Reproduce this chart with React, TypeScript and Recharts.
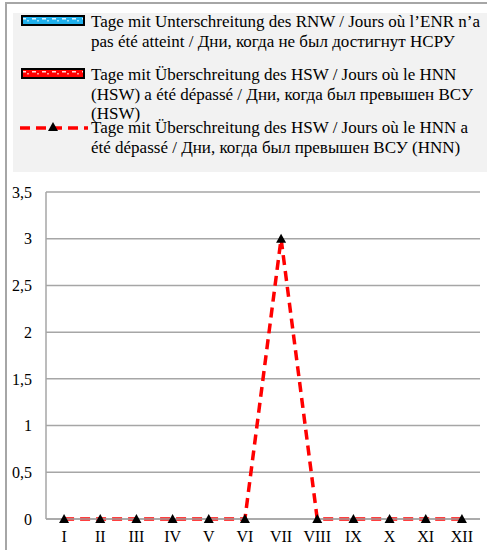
import React from "react";
import { ComposedChart, Bar, Line, XAxis, YAxis, CartesianGrid } from "recharts";

// months (roman numerals)
const months = ["I", "II", "III", "IV", "V", "VI", "VII", "VIII", "IX", "X", "XI", "XII"];
// days below RNW (no bars visible)
const rnwDays = [0, 0, 0, 0, 0, 0, 0, 0, 0, 0, 0, 0];
// days above HSW (no bars visible)
const hswDays = [0, 0, 0, 0, 0, 0, 0, 0, 0, 0, 0, 0];
// days above HSW (HNN) - dashed line
const hnnDays = [0, 0, 0, 0, 0, 0, 3, 0, 0, 0, 0, 0];
const yTicks = [0, 0.5, 1, 1.5, 2, 2.5, 3, 3.5];

const rnwLabel = [
  "Tage mit Unterschreitung des RNW / Jours où l’ENR n’a",
  "pas été atteint / Дни, когда не был достигнут НСРУ",
];
const hswLabel = [
  "Tage mit Überschreitung des HSW / Jours où le HNN",
  "(HSW) a été dépassé / Дни, когда был превышен ВСУ",
  "(HSW)",
];
const hnnLabel = [
  "Tage mit Überschreitung des HSW / Jours où le HNN a",
  "été dépassé / Дни, когда был превышен ВСУ (HNN)",
];

const data = months.map((m, i) => ({
  month: m,
  rnw: rnwDays[i],
  hsw: hswDays[i],
  hnn: hnnDays[i],
}));

const FONT = '"Liberation Serif", "Times New Roman", Times, serif';
const GRID = "#a6a6a6";

const Triangle = (props: any) => {
  const { cx, cy, index } = props;
  if (cx == null || cy == null) return <g key={index} />;
  return (
    <polygon
      key={index}
      points={`${cx},${cy - 5} ${cx - 5},${cy + 4} ${cx + 5},${cy + 4}`}
      fill="#000"
    />
  );
};

function PatternBox({ id, color }: { id: string; color: string }) {
  return (
    <svg width={64} height={11} style={{ display: "block" }}>
      <defs>
        <pattern id={id} width={10} height={8} patternUnits="userSpaceOnUse">
          <rect width={10} height={8} fill={color} />
          <rect x={1} y={3} width={4} height={1.5} fill="#fff" opacity={0.85} />
          <rect x={6} y={5} width={2} height={1.5} fill="#fff" opacity={0.6} />
        </pattern>
      </defs>
      <rect x={1} y={1} width={62} height={9} fill={`url(#${id})`} stroke="#000" strokeWidth={2} />
    </svg>
  );
}

function LegendText({ lines, top }: { lines: string[]; top: number }) {
  return (
    <div
      style={{
        position: "absolute",
        left: 91,
        top,
        fontFamily: FONT,
        fontSize: 17,
        lineHeight: "19.5px",
        color: "#000",
        whiteSpace: "nowrap",
      }}
    >
      {lines.map((l, i) => (
        <div key={i}>{l}</div>
      ))}
    </div>
  );
}

export default function App() {
  return (
    <div style={{ position: "absolute", left: 0, top: 0, width: 487, height: 550, background: "#fff", overflow: "hidden" }}>
      {/* outer frame */}
      <div
        style={{
          position: "absolute",
          left: 5,
          top: 2,
          width: 500,
          height: 600,
          borderLeft: `2px solid ${GRID}`,
          borderTop: `2px solid ${GRID}`,
        }}
      />
      {/* legend box */}
      <div style={{ position: "absolute", left: 13, top: 13, width: 480, height: 159, background: "#f2f2f2" }} />
      <div style={{ position: "absolute", left: 21, top: 15 }}>
        <PatternBox id="rnwPat" color="#1fb0ec" />
      </div>
      <LegendText lines={rnwLabel} top={12} />
      <div style={{ position: "absolute", left: 21, top: 68 }}>
        <PatternBox id="hswPat" color="#ff0000" />
      </div>
      <LegendText lines={hswLabel} top={65} />
      <svg style={{ position: "absolute", left: 20, top: 120 }} width={68} height={14}>
        <line x1={0} y1={8} x2={68} y2={8} stroke="#ff0000" strokeWidth={3.5} strokeDasharray="10 6" />
        <polygon points="33,2 28,11 38,11" fill="#000" />
      </svg>
      <LegendText lines={hnnLabel} top={118} />

      <div style={{ position: "absolute", left: 0, top: 0 }}>
        <ComposedChart
          width={487}
          height={550}
          data={data}
          margin={{ top: 192, right: 7, bottom: 6, left: 6 }}
        >
          <CartesianGrid vertical={false} stroke={GRID} strokeWidth={1.5} />
          <XAxis
            dataKey="month"
            axisLine={{ stroke: GRID, strokeWidth: 1.5 }}
            tickLine={false}
            tickSize={0}
            tickMargin={12}
            height={25}
            interval={0}
            tick={{ fontFamily: FONT, fontSize: 16, fill: "#000" }}
          />
          <YAxis
            domain={[0, 3.5]}
            ticks={yTicks}
            width={40}
            axisLine={{ stroke: GRID, strokeWidth: 1.5 }}
            tickLine={false}
            tickSize={0}
            tickMargin={14}
            tickFormatter={(v: number) => String(v).replace(".", ",")}
            tick={{ fontFamily: FONT, fontSize: 16, fill: "#000" }}
          />
          <Bar dataKey="rnw" fill="#1fb0ec" isAnimationActive={false} />
          <Bar dataKey="hsw" fill="#ff0000" isAnimationActive={false} />
          <Line
            type="linear"
            dataKey="hnn"
            stroke="#ff0000"
            strokeWidth={3.5}
            strokeDasharray="10 6"
            dot={Triangle}
            activeDot={false}
            isAnimationActive={false}
          />
        </ComposedChart>
      </div>
    </div>
  );
}
